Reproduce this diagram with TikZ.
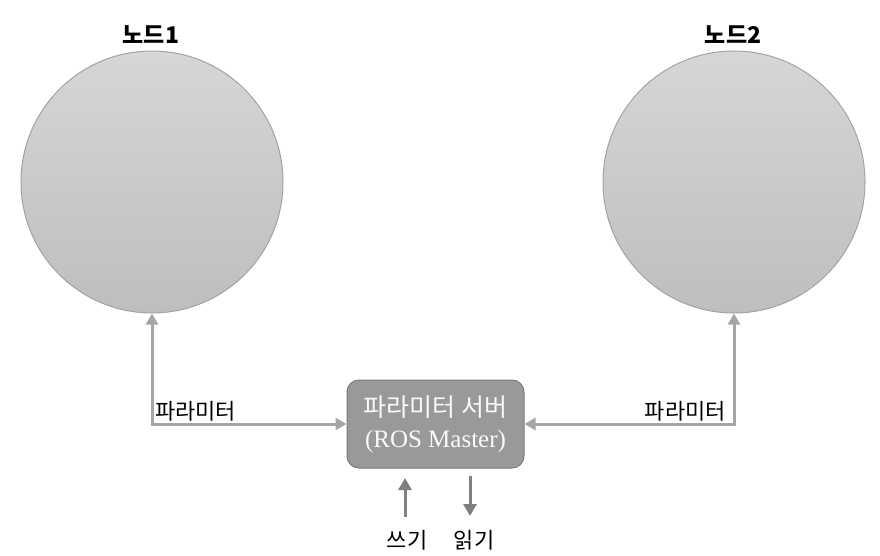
\documentclass[tikz,border=0pt]{standalone}
\usepackage{fontspec}
\setmainfont{Liberation Serif}
\newfontfamily\kr{Noto Sans CJK KR}
\usetikzlibrary{arrows.meta}
\definecolor{circtop}{HTML}{D6D6D6}
\definecolor{circbot}{HTML}{BEBEBE}
\definecolor{circedge}{HTML}{A3A3A3}
\definecolor{linegray}{HTML}{A6A6A6}
\definecolor{boxfill}{HTML}{999999}
\definecolor{boxedge}{HTML}{7A7A7A}
\definecolor{rwgray}{HTML}{808080}
\begin{document}
\begin{tikzpicture}[x=1pt,y=-1pt]

\tikzstyle{rosnode}=[circle,draw=circedge,line width=1pt,minimum size=262pt,inner sep=0pt,top color=circtop,bottom color=circbot]
\tikzstyle{title}=[font=\kr\bfseries\fontsize{23}{26}\selectfont]
\tikzstyle{server}=[rectangle,rounded corners=12pt,draw=boxedge,line width=1pt,fill=boxfill,text=white!95!gray,minimum width=177pt,minimum height=88pt,align=center,font=\fontsize{25}{31}\selectfont]
\tikzstyle{param}=[linegray,line width=3pt,{Triangle[length=11pt,width=12pt]}-{Triangle[length=11pt,width=12pt]}]
\tikzstyle{rw}=[rwgray,line width=3pt,-{Triangle[length=12pt,width=13pt]}]
\tikzstyle{txt}=[font=\kr\fontsize{22}{26}\selectfont,inner sep=1pt]

\useasboundingbox (0,0) rectangle (880,556);

\node[rosnode] (n1) at (152,182) {} ;
\node[rosnode] (n2) at (734,182) {} ;
\node[title]   (t1) at (151,35) {노드1} ;
\node[title]   (t2) at (733,35) {노드2} ;

\node[server] (master) at (435.5,424) {{\kr 파라미터 서버}\\(ROS Master)} ;

\draw[param] (n1.south) |- (master.west) ;
\draw[param] (n2.south) |- (master.east) ;

\node[txt,anchor=south west] (p1) at (154,422) {파라미터} ;
\node[txt,anchor=south east] (p2) at (727,422) {파라미터} ;

% write / read
\node[txt] (write) at (407,540) {쓰기} ;
\node[txt] (read)  at (474,540) {읽기} ;
\coordinate (wbot) at (405,517) ;
\coordinate (wtop) at (405,478) ;
\coordinate (rtop) at (470,476) ;
\coordinate (rbot) at (470,516) ;
\draw[rw] (wbot) -- (wtop) ;
\draw[rw] (rtop) -- (rbot) ;

\end{tikzpicture}
\end{document}
